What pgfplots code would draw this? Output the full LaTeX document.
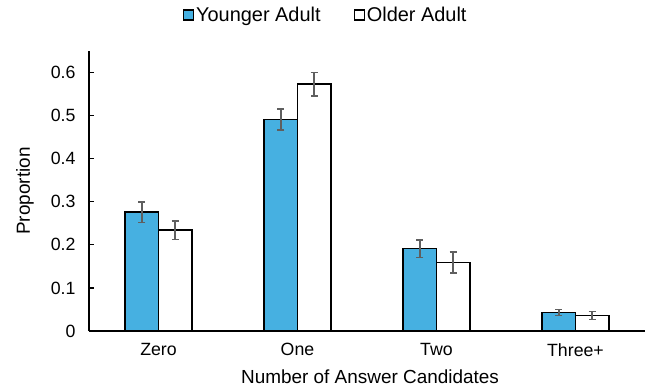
\documentclass[border=0pt]{standalone}
\usepackage{pgfplots}
\pgfplotsset{compat=1.18}
\usepackage{pgfplotstable}
\usepackage{fontspec}
\setmainfont{Liberation Sans}

\definecolor{youngblue}{RGB}{70,176,225}
\definecolor{errgray}{RGB}{95,95,95}

% category  proportion  standard error
\pgfplotstableread{
x  y      err
0  0.276  0.024
1  0.491  0.024
2  0.191  0.020
3  0.043  0.007
}\younger
\pgfplotstableread{
x  y      err
0  0.234  0.022
1  0.573  0.027
2  0.159  0.024
3  0.036  0.009
}\older

\pgfplotsset{
  se bars/.style={
    error bars/y dir=both,
    error bars/y explicit,
    error bars/error bar style={errgray, line width=1.6bp},
    error bars/error mark options={rotate=90, mark size=3.6bp, errgray, line width=1.6bp},
  },
}

\begin{document}
\begin{tikzpicture}
\useasboundingbox (0,0) rectangle (647bp,389bp);
\begin{axis}[
  at={(89bp,58bp)}, anchor=south west,
  scale only axis, width=556bp, height=280bp,
  xmin=-0.5, xmax=3.5, ymin=0, ymax=0.65,
  axis x line*=bottom, axis y line*=left,
  axis line style={-, black, line width=1.3bp},
  ybar, bar width=0.24,
  xtick={0,1,2,3},
  xticklabels={Zero,One,Two,Three+},
  x tick style={draw=none},
  ytick={0,0.1,0.2,0.3,0.4,0.5,0.6},
  y tick style={black, line width=1.3bp},
  tick align=inside, major tick length=5bp,
  /pgf/number format/assume math mode=true,
  yticklabel={\pgfmathprintnumber[fixed,precision=1]{\tick}},
  tick label style={font=\fontsize{17.8}{21}\selectfont, black},
  yticklabel style={xshift=-10bp},
  xticklabel style={yshift=-9bp},
  xlabel={Number of Answer Candidates},
  ylabel={Proportion},
  label style={font=\fontsize{19}{22}\selectfont, black},
  xlabel style={at={(axis description cs:0.5,0)}, anchor=center, yshift=-46bp, xshift=3bp},
  ylabel style={at={(axis description cs:0,0.5)}, anchor=center, yshift=64bp},
  legend style={at={(axis description cs:0.4257,1.1286)}, anchor=center,
    draw=none, fill=none, font=\fontsize{20}{23}\selectfont,
    /tikz/every even column/.append style={column sep=31bp}},
  legend columns=2,
  legend image code/.code={\draw[#1, line width=1.3bp] (-2bp,-5bp) rectangle (8bp,5bp);},
]
\addplot[fill=youngblue, draw=black, line width=1.5bp, bar shift=-0.12, se bars]
  table[x=x, y=y, y error=err] {\younger};
\addlegendentry{Younger Adult}
\addplot[fill=white, draw=black, line width=1.5bp, bar shift=0.12, se bars]
  table[x=x, y=y, y error=err] {\older};
\addlegendentry{Older Adult}
\end{axis}
\end{tikzpicture}
\end{document}
